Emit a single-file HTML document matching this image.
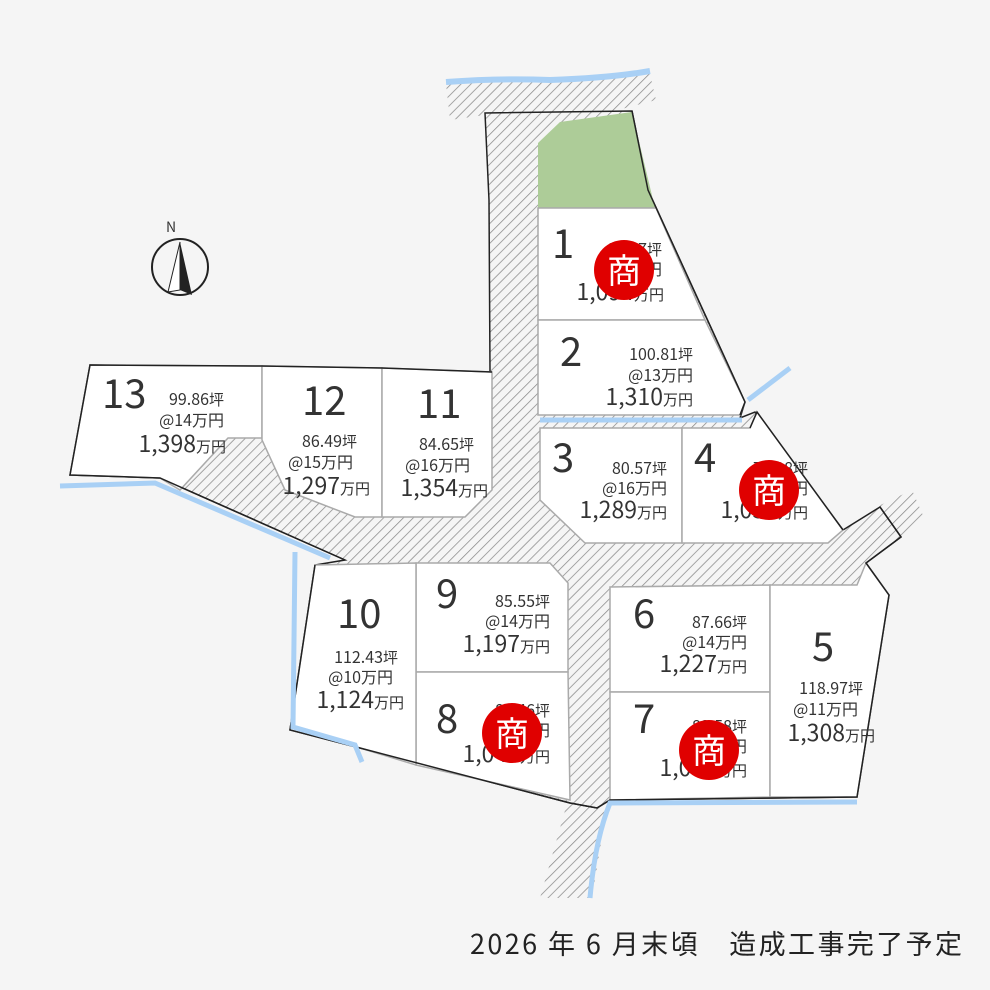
<!DOCTYPE html>
<html><head><meta charset="utf-8"><style>
html,body{margin:0;padding:0;background:#f5f5f5}
svg{display:block}
text{font-family:"Noto Sans CJK JP","Liberation Sans",sans-serif;fill:#333}
.n{font-size:40px}
.s{font-size:16px;text-anchor:end}
.p{font-size:23px;text-anchor:end}
.y{font-size:15px}
</style></head><body>
<svg width="990" height="990" viewBox="0 0 990 990" xmlns="http://www.w3.org/2000/svg">
<defs>
<pattern id="h" width="7" height="7" patternUnits="userSpaceOnUse" patternTransform="rotate(45)">
<rect width="7" height="7" fill="#f5f5f5"/><line x1="0" y1="0" x2="0" y2="7" stroke="#8a8a8a" stroke-width="1.5"/>
</pattern>
</defs>
<rect width="990" height="990" fill="#f5f5f5"/>
<polygon points="446,84 650,74 656,100 610,112 485,115 450,120" fill="url(#h)"/>
<path d="M446,82 Q500,78 550,80 Q610,78 650,71" stroke="#a9d0f5" stroke-width="6" fill="none"/>
<polygon points="540,898 592,898 608,800 568,800" fill="url(#h)"/>
<polygon points="870,510 912,490 925,520 895,540" fill="url(#h)"/>
<polygon points="485,113 632,111 648,190 745,402 740,418 755,412 843,530 880,507 901,537 866,563 889,595 857,797 610,800 597,808 570,803 360,748 290,730 315,565 345,560 160,478 70,475 90,365 490,372 489,200" fill="url(#h)" stroke="#222" stroke-width="1.5"/>
<polygon points="538,143 560,122 632,112 655,208 538,208" fill="#adcc98"/>
<g fill="#fff" stroke="#aaa" stroke-width="1.5">
<polygon points="538,208 656,208 705,320 538,320"/>
<polygon points="538,320 705,320 745,402 740,415 538,415"/>
<polygon points="540,428 682,428 682,543 585,543 540,500"/>
<polygon points="682,428 750,428 757,412 843,530 828,543 682,543"/>
<polygon points="610,587 770,585 770,692 610,692"/>
<polygon points="610,692 770,692 770,797 610,800"/>
<polygon points="770,585 857,585 866,563 889,595 857,797 770,797"/>
<polygon points="416,563 550,563 568,583 568,672 416,672"/>
<polygon points="416,672 568,672 570,800 416,765"/>
<polygon points="315,565 416,563 416,765 360,748 290,730"/>
<polygon points="90,365 262,366 262,438 228,438 180,490 160,478 70,475"/>
<polygon points="262,366 382,368 382,517 355,517 285,490 262,440"/>
<polygon points="382,368 492,372 492,490 465,517 382,517"/>
</g>
<g stroke="#222" stroke-width="1.5" fill="none">
<polyline points="632,111 648,190 745,402 740,415"/>
<polyline points="750,428 757,412 843,530"/>
<polyline points="880,507 901,537 866,563 889,595 857,797 610,800 597,808 570,803 360,748 290,730 315,565"/>
<polyline points="345,560 160,478 70,475 90,365 262,366 382,368 492,372"/>
</g>
<g stroke="#a9d0f5" stroke-width="5" fill="none">
<polyline points="540,420 742,420"/>
<polyline points="748,400 790,368"/>
<polyline points="60,486 155,483 330,558"/>
<polyline points="295,552 293,727 355,745 362,762"/>
<path d="M590,898 Q595,840 610,803 L857,802"/>
</g>
<circle cx="180" cy="267" r="28" fill="none" stroke="#222" stroke-width="2"/>
<polygon points="180,242 192,295 180,290" fill="#222"/>
<polygon points="180,242 168,292 180,290" fill="#fff" stroke="#222" stroke-width="1"/>
<text x="166" y="232" style="font-size:14px">N</text>
<text class="n" x="552" y="258">1</text>
<text class="s" x="662" y="255">84.17<tspan class="y">坪</tspan></text>
<text class="s" x="662" y="275">@13万円</text>
<text class="p" x="664" y="300">1,094<tspan class="y">万円</tspan></text>
<text class="n" x="560" y="366">2</text>
<text class="s" x="693" y="360">100.81<tspan class="y">坪</tspan></text>
<text class="s" x="693" y="381">@13万円</text>
<text class="p" x="693" y="405">1,310<tspan class="y">万円</tspan></text>
<text class="n" x="552" y="472">3</text>
<text class="s" x="667" y="474">80.57<tspan class="y">坪</tspan></text>
<text class="s" x="667" y="494">@16万円</text>
<text class="p" x="667" y="518">1,289<tspan class="y">万円</tspan></text>
<text class="n" x="694" y="472">4</text>
<text class="s" x="808" y="474">77.28<tspan class="y">坪</tspan></text>
<text class="s" x="808" y="494">@14万円</text>
<text class="p" x="808" y="518">1,052<tspan class="y">万円</tspan></text>
<text class="n" x="812" y="661">5</text>
<text class="s" x="863" y="694">118.97<tspan class="y">坪</tspan></text>
<text class="s" x="858" y="715">@11万円</text>
<text class="p" x="875" y="741">1,308<tspan class="y">万円</tspan></text>
<text class="n" x="633" y="628">6</text>
<text class="s" x="747" y="628">87.66<tspan class="y">坪</tspan></text>
<text class="s" x="747" y="648">@14万円</text>
<text class="p" x="747" y="672">1,227<tspan class="y">万円</tspan></text>
<text class="n" x="633" y="733">7</text>
<text class="s" x="747" y="732">89.58<tspan class="y">坪</tspan></text>
<text class="s" x="747" y="752">@12万円</text>
<text class="p" x="747" y="776">1,075<tspan class="y">万円</tspan></text>
<text class="n" x="436" y="733">8</text>
<text class="s" x="550" y="716">87.46<tspan class="y">坪</tspan></text>
<text class="s" x="550" y="736">@12万円</text>
<text class="p" x="550" y="762">1,049<tspan class="y">万円</tspan></text>
<text class="n" x="436" y="608">9</text>
<text class="s" x="550" y="607">85.55<tspan class="y">坪</tspan></text>
<text class="s" x="550" y="627">@14万円</text>
<text class="p" x="550" y="652">1,197<tspan class="y">万円</tspan></text>
<text class="n" x="337" y="628">10</text>
<text class="s" x="398" y="663">112.43<tspan class="y">坪</tspan></text>
<text class="s" x="393" y="683">@10万円</text>
<text class="p" x="404" y="708">1,124<tspan class="y">万円</tspan></text>
<text class="n" x="417" y="418">11</text>
<text class="s" x="474" y="450">84.65<tspan class="y">坪</tspan></text>
<text class="s" x="470" y="471">@16万円</text>
<text class="p" x="488" y="496">1,354<tspan class="y">万円</tspan></text>
<text class="n" x="302" y="415">12</text>
<text class="s" x="357" y="447">86.49<tspan class="y">坪</tspan></text>
<text class="s" x="353" y="468">@15万円</text>
<text class="p" x="370" y="494">1,297<tspan class="y">万円</tspan></text>
<text class="n" x="102" y="408">13</text>
<text class="s" x="224" y="405">99.86<tspan class="y">坪</tspan></text>
<text class="s" x="224" y="426">@14万円</text>
<text class="p" x="226" y="452">1,398<tspan class="y">万円</tspan></text>
<g>
<circle cx="624" cy="270" r="30" fill="#e00000"/><text x="624" y="283" style="font-size:34px;fill:#fff;text-anchor:middle">商</text>
<circle cx="769" cy="490" r="30" fill="#e00000"/><text x="769" y="503" style="font-size:34px;fill:#fff;text-anchor:middle">商</text>
<circle cx="512" cy="733" r="30" fill="#e00000"/><text x="512" y="746" style="font-size:34px;fill:#fff;text-anchor:middle">商</text>
<circle cx="709" cy="750" r="30" fill="#e00000"/><text x="709" y="763" style="font-size:34px;fill:#fff;text-anchor:middle">商</text>
</g>
<text x="470" y="954" textLength="492" lengthAdjust="spacing" style="font-size:27px;fill:#222">2026 年 6 月末頃　造成工事完了予定</text>
</svg>
</body></html>
